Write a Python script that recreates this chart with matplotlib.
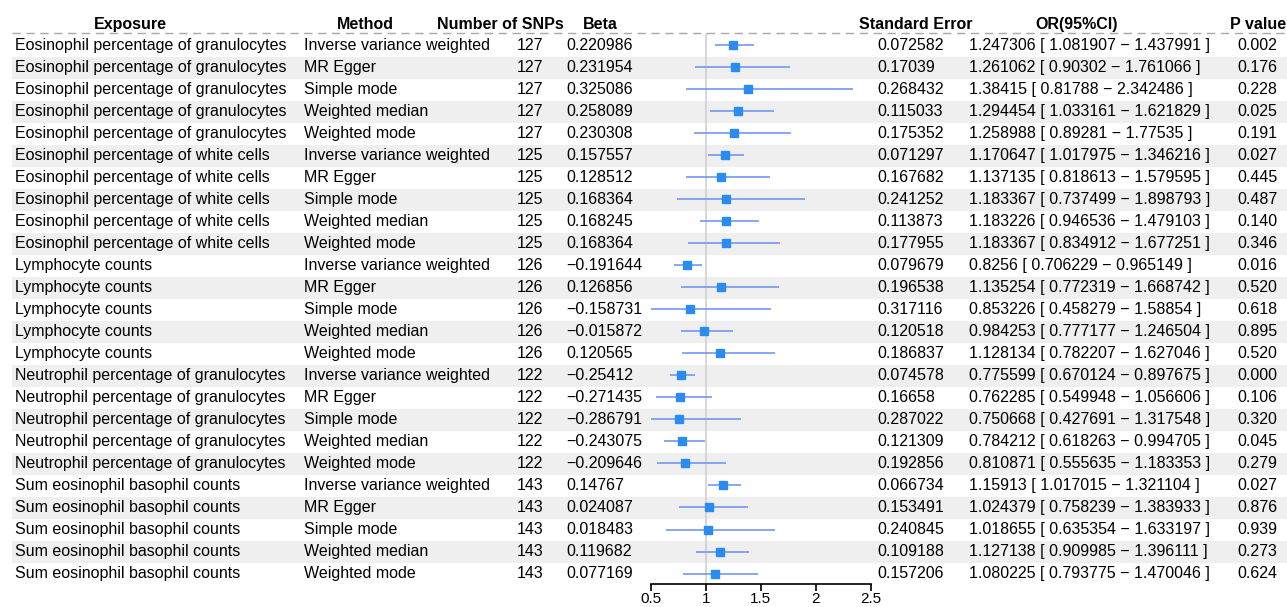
import matplotlib
matplotlib.use('Agg')
import matplotlib.pyplot as plt
import numpy as np

plt.rcParams['font.family'] = ['Liberation Sans', 'DejaVu Sans']

exposures = (["Eosinophil percentage of granulocytes"] * 5
             + ["Eosinophil percentage of white cells"] * 5
             + ["Lymphocyte counts"] * 5
             + ["Neutrophil percentage of granulocytes"] * 5
             + ["Sum eosinophil basophil counts"] * 5)
methods = ["Inverse variance weighted", "MR Egger", "Simple mode",
           "Weighted median", "Weighted mode"] * 5
nsnp = [127] * 5 + [125] * 5 + [126] * 5 + [122] * 5 + [143] * 5
beta = ["0.220986", "0.231954", "0.325086", "0.258089", "0.230308",
        "0.157557", "0.128512", "0.168364", "0.168245", "0.168364",
        "\u22120.191644", "0.126856", "\u22120.158731", "\u22120.015872", "0.120565",
        "\u22120.25412", "\u22120.271435", "\u22120.286791", "\u22120.243075", "\u22120.209646",
        "0.14767", "0.024087", "0.018483", "0.119682", "0.077169"]
se = ["0.072582", "0.17039", "0.268432", "0.115033", "0.175352",
      "0.071297", "0.167682", "0.241252", "0.113873", "0.177955",
      "0.079679", "0.196538", "0.317116", "0.120518", "0.186837",
      "0.074578", "0.16658", "0.287022", "0.121309", "0.192856",
      "0.066734", "0.153491", "0.240845", "0.109188", "0.157206"]
odds = ["1.247306", "1.261062", "1.38415", "1.294454", "1.258988",
        "1.170647", "1.137135", "1.183367", "1.183226", "1.183367",
        "0.8256", "1.135254", "0.853226", "0.984253", "1.128134",
        "0.775599", "0.762285", "0.750668", "0.784212", "0.810871",
        "1.15913", "1.024379", "1.018655", "1.127138", "1.080225"]
lower = ["1.081907", "0.90302", "0.81788", "1.033161", "0.89281",
         "1.017975", "0.818613", "0.737499", "0.946536", "0.834912",
         "0.706229", "0.772319", "0.458279", "0.777177", "0.782207",
         "0.670124", "0.549948", "0.427691", "0.618263", "0.555635",
         "1.017015", "0.758239", "0.635354", "0.909985", "0.793775"]
upper = ["1.437991", "1.761066", "2.342486", "1.621829", "1.77535",
         "1.346216", "1.579595", "1.898793", "1.479103", "1.677251",
         "0.965149", "1.668742", "1.58854", "1.246504", "1.627046",
         "0.897675", "1.056606", "1.317548", "0.994705", "1.183353",
         "1.321104", "1.383933", "1.633197", "1.396111", "1.470046"]
pvals = ["0.002", "0.176", "0.228", "0.025", "0.191",
         "0.027", "0.445", "0.487", "0.140", "0.346",
         "0.016", "0.520", "0.618", "0.895", "0.520",
         "0.000", "0.106", "0.320", "0.045", "0.279",
         "0.027", "0.876", "0.939", "0.273", "0.624"]
headers = ["Exposure", "Method", "Number of SNPs", "Beta",
           "Standard Error", "OR(95%CI)", "P value"]
xticks = [0.5, 1, 1.5, 2, 2.5]

W, H = 1287, 607
row0, step = 45.5, 22.0          # pixel centre of first row and row pitch
n = len(methods)
rows = np.arange(n)

def row_of(py):
    return (py - row0) / step

fig = plt.figure(figsize=(W / 100, H / 100), dpi=100)

# table layer in pixel x, row-index y
ax = fig.add_axes([0, 0, 1, 1])
ax.set_xlim(0, W)
ax.set_ylim(row_of(H), row_of(0))
ax.axis('off')

stripe = rows[1::2]
ax.barh(stripe, W - 12, left=12, height=1.0, color='#efefef', zorder=0)
ax.plot([12, W], [row_of(33)] * 2, color='#a8a8a8', lw=1, ls=(0, (6, 4)), zorder=1)

fs = 11.5
hx = [130, 365, 500, 600, 916, 1077, 1258]
for x, h in zip(hx, headers):
    ax.text(x, row_of(24.5), h, ha='center', va='center', fontsize=fs,
            fontweight='bold', zorder=3)

for i in rows:
    ax.text(15, i, exposures[i], ha='left', va='center', fontsize=fs)
    ax.text(304, i, methods[i], ha='left', va='center', fontsize=fs)
    ax.text(530, i, str(nsnp[i]), ha='center', va='center', fontsize=fs)
    ax.text(566, i, beta[i], ha='left', va='center', fontsize=fs)
    ax.text(877, i, se[i], ha='left', va='center', fontsize=fs)
    ax.text(969, i, f"{odds[i]} [ {lower[i]} \u2212 {upper[i]} ]",
            ha='left', va='center', fontsize=fs)
    ax.text(1257, i, pvals[i], ha='center', va='center', fontsize=fs)

# forest panel
top_px, bot_px = 33, 583.5
x0_px, x1_px = 651, 870.7
fx = fig.add_axes([x0_px / W, (H - bot_px) / H, (x1_px - x0_px) / W,
                   (bot_px - top_px) / H])
fx.patch.set_alpha(0)
fx.set_xlim(0.5, 2.5)
fx.set_ylim(row_of(bot_px), row_of(top_px))
for s in ['top', 'right', 'left']:
    fx.spines[s].set_visible(False)
fx.spines['bottom'].set_linewidth(1.2)
fx.set_yticks([])
fx.set_xticks(xticks)
fx.set_xticklabels(['0.5', '1', '1.5', '2', '2.5'], fontsize=11)
fx.tick_params(axis='x', length=5, width=1.2, pad=1)

fx.axvline(1, color='#cfcfcf', lw=1.2, zorder=1)
o = np.array(odds, dtype=float)
lo = np.array(lower, dtype=float)
hi = np.array(upper, dtype=float)
fx.hlines(rows, lo, hi, color='#6b8ef0', lw=1.1, zorder=2)
fx.plot(o, rows, 's', color='#2b8cf0', markersize=6, zorder=3)

fig.savefig('out.png', dpi=100)
